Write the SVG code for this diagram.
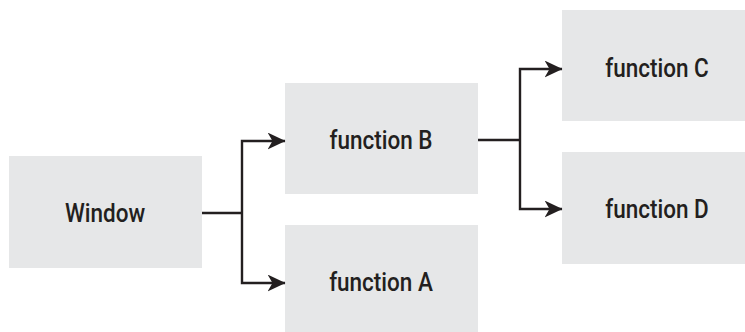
<svg xmlns="http://www.w3.org/2000/svg" width="745" height="332" viewBox="0 0 745 332">
<defs>
<style>
.box{fill:#e6e7e8}
.lbl{font-family:Roboto,"Liberation Sans",sans-serif;font-weight:500;font-size:25px;fill:#231f20;text-anchor:middle}
.con{fill:none;stroke:#231f20;stroke-width:2.4}
</style>
<marker id="ah" viewBox="0 0 18 17" refX="17.5" refY="8.5" markerWidth="18" markerHeight="17" markerUnits="userSpaceOnUse" orient="auto">
<path d="M0,0 L18,8.5 L0,17 L5,8.5 Z" fill="#231f20"/>
</marker>
</defs>
<g id="window"><rect class="box" x="9" y="156" width="193" height="112"/><text class="lbl" transform="translate(105,222) scale(0.9,1)">Window</text></g>
<g id="functionB"><rect class="box" x="285" y="83" width="193" height="111"/><text class="lbl" transform="translate(381,149) scale(0.9,1)">function B</text></g>
<g id="functionA"><rect class="box" x="285" y="225" width="193" height="107"/><text class="lbl" transform="translate(381,291) scale(0.9,1)">function A</text></g>
<g id="functionC"><rect class="box" x="562" y="10" width="183" height="111"/><text class="lbl" transform="translate(657,77) scale(0.9,1)">function C</text></g>
<g id="functionD"><rect class="box" x="562" y="152" width="183" height="112"/><text class="lbl" transform="translate(657,218) scale(0.9,1)">function D</text></g>
<g id="connectors">
<path class="con" d="M202,213 H242"/>
<path class="con" d="M242,213 V141 H285" marker-end="url(#ah)"/>
<path class="con" d="M242,213 V283 H285" marker-end="url(#ah)"/>
<path class="con" d="M478,140 H520"/>
<path class="con" d="M520,140 V69 H562" marker-end="url(#ah)"/>
<path class="con" d="M520,140 V209 H562" marker-end="url(#ah)"/>
</g>
</svg>
